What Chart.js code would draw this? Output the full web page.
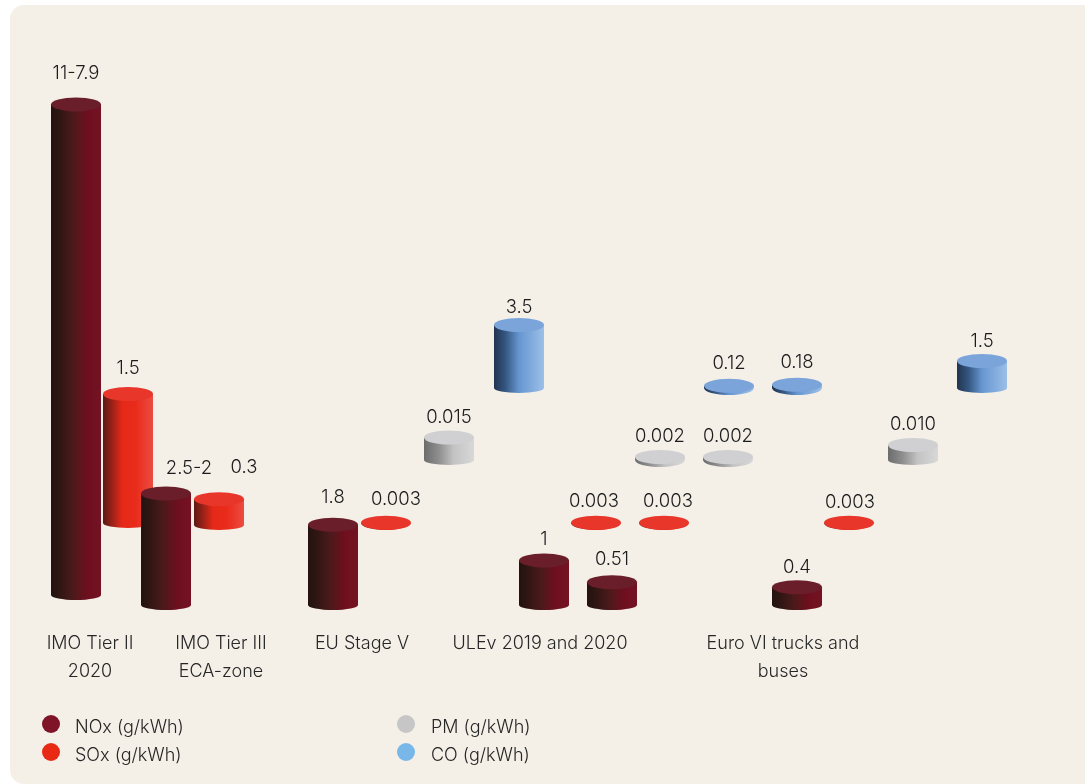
<!DOCTYPE html>
<html>
<head>
<meta charset="utf-8">
<title>Emission limits by regulation</title>
<script src="https://cdn.jsdelivr.net/npm/chart.js@4/dist/chart.umd.js"></script>
<style>
  html, body { margin: 0; padding: 0; background: #fff; width: 1085px; height: 784px; overflow: hidden; }
  #panel { position: absolute; left: 10px; top: 5px; width: 1075px; height: 779px; background: #f4f0e8; border-radius: 14px 0 0 14px; }
  #stage { position: absolute; left: 0; top: 0; width: 1085px; height: 784px; }
  #legend { position: absolute; left: 0; top: 0; width: 1085px; height: 784px; pointer-events: none;
            font: 300 18px Inter, sans-serif; color: #262626; }
  .key { position: absolute; white-space: nowrap; line-height: 20px; }
  .dot { position: absolute; width: 18px; height: 18px; border-radius: 50%; }
</style>
</head>
<body>
<div id="panel"></div>
<div id="stage"><canvas id="chart" width="1085" height="784"></canvas></div>
<div id="legend"></div>
<script>
// Regulations and the tick labels under them
const regulationLabels = [['IMO Tier II', '2020'], ['IMO Tier III', 'ECA-zone'], ['EU Stage V'], ['ULEv 2019 and 2020'], ['Euro VI trucks and', 'buses']];
const regulationTicks = [9.0, 22.1, 36.2, 54.0, 78.3];

// Limit values per pollutant, and the text printed above each mark
const noxValues = [11, 2.5, 1.8, 1, 0.51, 0.4];
const noxLabels = ['11-7.9', '2.5-2', '1.8', '1', '0.51', '0.4'];
const soxValues = [1.5, 0.3, 0.003, 0.003, 0.003, 0.003];
const soxLabels = ['1.5', '0.3', '0.003', '0.003', '0.003', '0.003'];
const pmValues = [0.015, 0.002, 0.002, 0.010];
const pmLabels = ['0.015', '0.002', '0.002', '0.010'];
const coValues = [3.5, 0.12, 0.18, 1.5];
const coLabels = ['3.5', '0.12', '0.18', '1.5'];

// Horizontal track of each mark on the shared x scale
const noxTracks = [7.6, 16.6, 33.3, 54.4, 61.2, 79.7];
const soxTracks = [12.8, 21.9, 38.6, 59.6, 66.4, 84.9];
const pmTracks = [44.9, 66.0, 72.8, 91.3];
const coTracks = [51.9, 72.9, 79.7, 98.2];

// Where a column stands a little off its pollutant's floor (axis units)
const noxSeats = [0.224, 0, 0, 0, 0, 0];
const soxSeats = [0, -0.023, 0, 0, 0, 0];

// Fine placement of value labels: sideways in x-scale units, downwards in pixels
const noxLabelShift = [0, 2.3, 0, 0, 0, 0];
const soxLabelShift = [0, 2.5, 1.0, -0.2, 0.4, 0.1];
const noxLabelDrop = [-7, -1, -3, 3, 1, 4];
const soxLabelDrop = [-2, -8, 1, 3, 3, 4];
const pmLabelDrop = [4, 3, 3, 3];
const coLabelDrop = [6, 2, 2, 4];

const floorOf = (values, tracks, seats) => values.map((v, i) => {
  const seat = seats ? seats[i] : 0;
  return { x: tracks[i], y: [seat, seat + v] };
});

// Gradient stops of the side walls, looked up by pollutant key
const walls = {
  nox: [[0, '#241210'], [0.12, '#2a1512'], [0.45, '#4c1a1a'], [0.72, '#6e0f1e'], [1, '#741224']],
  sox: [[0, '#5a1a14'], [0.22, '#a82318'], [0.38, '#e62818'], [0.65, '#e92b1b'], [1, '#ec4c42']],
  pm: [[0, '#6c6c6c'], [0.3, '#8f8f8f'], [0.6, '#c4c4c4'], [1, '#d8d8d8']],
  co: [[0, '#22344f'], [0.22, '#33557f'], [0.5, '#6696d0'], [1, '#9cbfe8']]
};

// Cylinder-shaded bar: a side wall with a horizontal gradient and an elliptical cap
class CylinderElement extends Chart.BarElement {
  draw(ctx) {
    const { x, y, base, width } = this.getProps(['x', 'y', 'base', 'width']);
    const { wall, cap } = this.options;
    const rx = width / 2, ry = 7;
    // Tall columns sit on a flatter foot; thin discs keep the cap's curve so the rim shows
    const footRy = base - y < 8 ? ry : 5;
    const left = x - rx, right = x + rx;
    const grad = ctx.createLinearGradient(left, 0, right, 0);
    walls[wall].forEach(([stop, colour]) => grad.addColorStop(stop, colour));
    ctx.save();
    ctx.beginPath();
    ctx.moveTo(left, y);
    ctx.lineTo(left, base);
    ctx.ellipse(x, base, rx, footRy, 0, Math.PI, 0, true);
    ctx.lineTo(right, y);
    ctx.closePath();
    ctx.fillStyle = grad;
    ctx.fill();
    ctx.beginPath();
    ctx.ellipse(x, y, rx, ry, 0, 0, Math.PI * 2);
    ctx.fillStyle = cap;
    ctx.fill();
    ctx.restore();
  }
}
CylinderElement.id = 'cylinder';
CylinderElement.defaults = Object.assign({}, Chart.BarElement.defaults, { wall: 'nox', cap: '#000' });
CylinderElement.defaultRoutes = Chart.BarElement.defaultRoutes;

class CylinderController extends Chart.BarController {}
CylinderController.id = 'cylinderBar';
CylinderController.defaults = Object.assign({}, Chart.BarController.defaults, { dataElementType: 'cylinder' });
CylinderController.overrides = Chart.BarController.overrides;
Chart.register(CylinderElement, CylinderController);

// Value text above each cap
const valueLabels = {
  id: 'valueLabels',
  afterDatasetsDraw(chart) {
    const { ctx } = chart;
    const xScale = chart.scales.x;
    const unit = xScale.getPixelForValue(1) - xScale.getPixelForValue(0);
    chart.data.datasets.forEach((ds, d) => {
      chart.getDatasetMeta(d).data.forEach((bar, i) => {
        const shift = ds.labelShift ? ds.labelShift[i] : 0;
        ctx.save();
        ctx.font = '300 18.5px Inter, sans-serif';
        ctx.fillStyle = '#1c1c1c';
        ctx.textAlign = 'center';
        ctx.textBaseline = 'middle';
        ctx.fillText(ds.valueText[i], bar.x + shift * unit, bar.y - 24 + ds.labelDrop[i]);
        ctx.restore();
      });
    });
  }
};

// Legend laid out in two columns beneath the chart
const twoColumnLegend = {
  id: 'twoColumnLegend',
  afterInit(chart) {
    const host = document.getElementById('legend');
    const rows = [[51, 75, 726], [51, 75, 754], [406, 431, 726], [406, 431, 754]];
    chart.data.datasets.forEach((ds, i) => {
      const [dotX, textX, rowY] = rows[i];
      const dot = document.createElement('div');
      dot.className = 'dot';
      dot.style.cssText = `left:${dotX - 9}px;top:${rowY - 11}px;background:${ds.keyColor}`;
      const key = document.createElement('div');
      key.className = 'key';
      key.style.cssText = `left:${textX}px;top:${rowY - 9}px`;
      key.textContent = ds.label;
      host.append(dot, key);
    });
  }
};

new Chart(document.getElementById('chart'), {
  type: 'cylinderBar',
  data: {
    datasets: [
      { label: 'NOx (g/kWh)', yAxisID: 'yNox', data: floorOf(noxValues, noxTracks, noxSeats), valueText: noxLabels, labelShift: noxLabelShift, labelDrop: noxLabelDrop, wall: 'nox', cap: '#6a1e2a', keyColor: '#7f1428' },
      { label: 'SOx (g/kWh)', yAxisID: 'ySox', data: floorOf(soxValues, soxTracks, soxSeats), valueText: soxLabels, labelShift: soxLabelShift, labelDrop: soxLabelDrop, wall: 'sox', cap: '#e8362b', keyColor: '#e82a15' },
      { label: 'PM (g/kWh)', yAxisID: 'yPm', data: floorOf(pmValues, pmTracks), valueText: pmLabels, labelDrop: pmLabelDrop, wall: 'pm', cap: '#d0d0d2', keyColor: '#c6c6c6' },
      { label: 'CO (g/kWh)', yAxisID: 'yCo', data: floorOf(coValues, coTracks), valueText: coLabels, labelDrop: coLabelDrop, wall: 'co', cap: '#7ba4da', keyColor: '#78b7e8' }
    ]
  },
  options: {
    responsive: false,
    animation: false,
    grouped: false,
    barThickness: 50,
    layout: { padding: { left: 0, right: 0, top: 0, bottom: 89 } },
    plugins: { legend: { display: false }, tooltip: { enabled: false } },
    scales: {
      x: {
        type: 'linear', min: 0, max: 108.5, offset: false,
        grid: { display: false, drawTicks: false }, border: { display: false },
        afterBuildTicks: scale => { scale.ticks = regulationTicks.map(value => ({ value })); },
        afterFit: scale => { scale.height = 70; },
        ticks: {
          autoSkip: false, maxRotation: 0, padding: 5, color: '#262626',
          font: { family: 'Inter, sans-serif', size: 18, weight: '300', lineHeight: 1.54 },
          callback: (value, index) => regulationLabels[index]
        }
      },
      // Each pollutant has its own linear scale and floor height
      yNox: { display: false, min: -0.448, max: 13.565 },
      ySox: { display: false, min: -1.186, max: 6.081 },
      yPm: { display: false, min: -0.11, max: 0.30667 },
      yCo: { display: false, min: -13.167, max: 21.556 }
    }
  },
  plugins: [valueLabels, twoColumnLegend]
});
</script>
</body>
</html>
